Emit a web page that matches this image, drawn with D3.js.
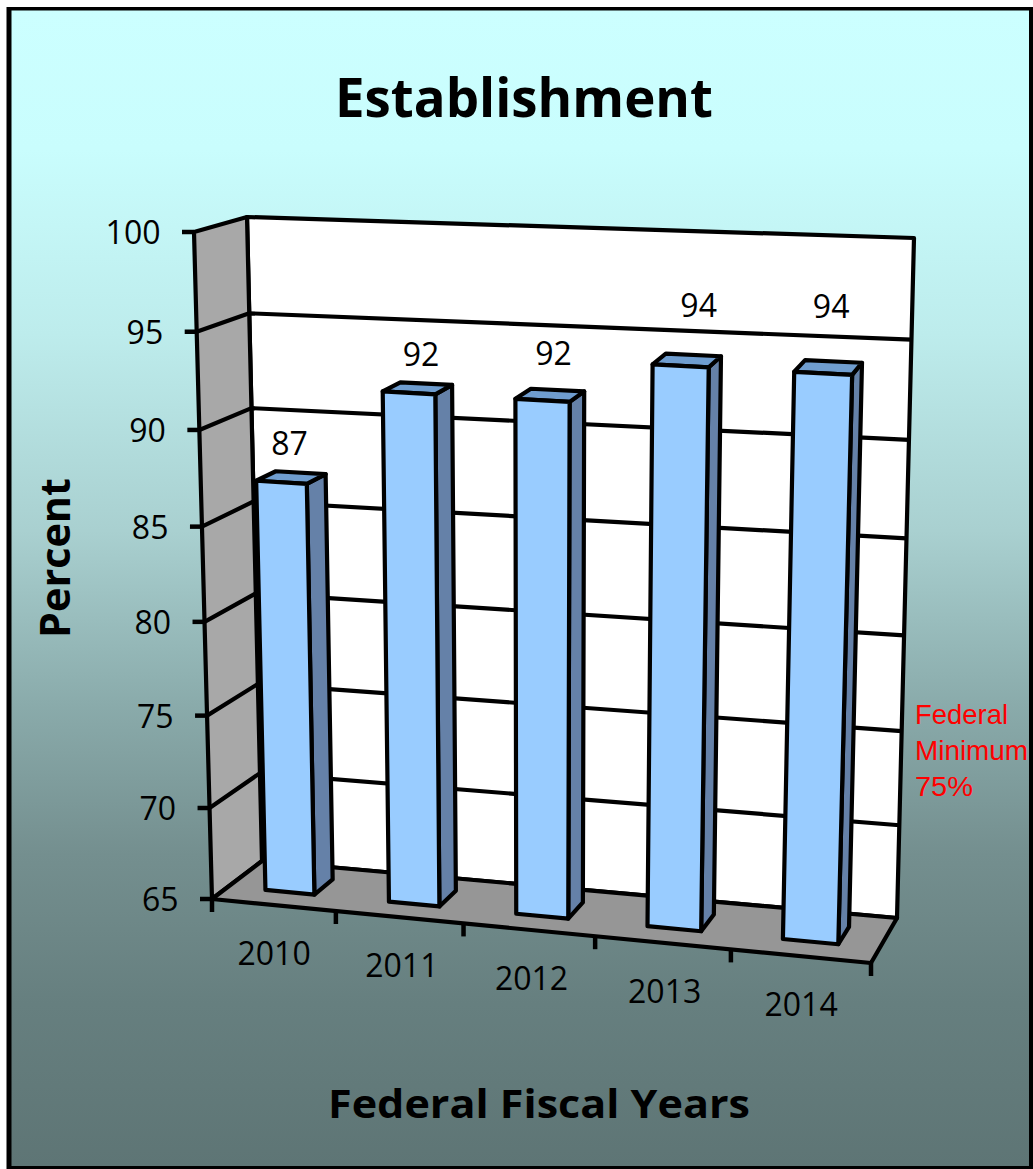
<!DOCTYPE html>
<html><head><meta charset="utf-8">
<script src="https://cdn.jsdelivr.net/npm/d3@7"></script>
<style>html,body{margin:0;padding:0;background:#fff}svg{display:block}</style>
</head><body><div id="chart"></div>
<script>
const years = ["2010","2011","2012","2013","2014"];
const values = [87.1,92.1,92.1,94.2,94.2];
const valueTicks = [65,70,75,80,85,90,95,100];
const minimumNote = ["Federal","Minimum","75%"];
const noteWidths = [93,113,58];

const W=1033,H=1169;
const FONT="'Open Sans','Noto Sans',sans-serif", BOLD="'Open Sans','Noto Sans',sans-serif", NOTE="'Liberation Sans',sans-serif";
const svg=d3.select("#chart").append("svg").attr("width",W).attr("height",H);
const defs=svg.append("defs");
const g=defs.append("linearGradient").attr("id","bg").attr("x1",0).attr("x2",0).attr("y1",0).attr("y2",1);
[[0,"#ccffff"],[.12,"#c9fdfd"],[.28,"#bdecec"],[.45,"#a9d0d0"],[.6,"#8aabab"],[.73,"#748f8f"],[.86,"#667f7f"],[1,"#5e7575"]]
  .forEach(s=>g.append("stop").attr("offset",s[0]).attr("stop-color",s[1]));
svg.append("rect").attr("x",6.5).attr("y",7).attr("width",W-6.5).attr("height",H-7).attr("fill","#000");
svg.append("rect").attr("x",11.5).attr("y",10.5).attr("width",1029-11.5).attr("height",1166-10.5).attr("fill","url(#bg)");

// perspective warp shared by the chart's axes
const warp=k=>t=>t/(t+k*(1-t));
const tOf=d3.scaleLinear().domain([65,100]).range([0,1]);
const vT=v=>warp(1.055)(tOf(v));
const band=d3.scaleBand().domain(years).range([0.001,1.001]).paddingInner(0.6).paddingOuter(0.3);
const uW=warp(1.08);

// box corners
const box={
 f:{l:{b:[212,899],t:[194,232]},r:{b:[871,963],t:[891,267]}},
 k:{l:{b:[262,861],t:[247,217]},r:{b:[897,918],t:[914,238]}}
};
const mix=d3.interpolateNumber;
function P(u,d,t){
  const q=(a,b)=>[mix(a[0],b[0])(t),mix(a[1],b[1])(t)];
  const fl=q(box.f.l.b,box.f.l.t),fr=q(box.f.r.b,box.f.r.t),kl=q(box.k.l.b,box.k.l.t),kr=q(box.k.r.b,box.k.r.t);
  const e=(a,b,s)=>[mix(a[0],b[0])(s),mix(a[1],b[1])(s)];
  return e(e(fl,fr,u),e(kl,kr,u),d);
}
const poly=pts=>pts.map(p=>p.join(",")).join(" ");
const SW=4.2;
const plot=svg.append("g").attr("stroke-linejoin","round");

plot.append("polygon").attr("points",poly([P(0,1,0),P(1,1,0),P(1,1,1),P(0,1,1)])).attr("fill","#fff").attr("stroke","#000").attr("stroke-width",SW);
plot.append("polygon").attr("points",poly([P(0,0,0),P(0,1,0),P(0,1,1),P(0,0,1)])).attr("fill","#a8a8a8").attr("stroke","#000").attr("stroke-width",SW);
plot.append("polygon").attr("points",poly([P(0,0,0),P(1,0,0),P(1,1,0),P(0,1,0)])).attr("fill","#969696").attr("stroke","#000").attr("stroke-width",SW);

plot.selectAll(".grid").data(valueTicks.slice(1,-1)).join("polyline").attr("class","grid")
  .attr("points",v=>poly([P(0,0,vT(v)),P(0,1,vT(v)),P(1,1,vT(v))]))
  .attr("fill","none").attr("stroke","#000").attr("stroke-width",SW);

const yTicks=plot.selectAll(".yt").data(valueTicks).join("g").attr("class","yt");
yTicks.append("line").attr("x1",v=>P(0,0,vT(v))[0]-12).attr("x2",v=>P(0,0,vT(v))[0])
  .attr("y1",v=>P(0,0,vT(v))[1]).attr("y2",v=>P(0,0,vT(v))[1]).attr("stroke","#000").attr("stroke-width",4.5);
yTicks.append("text").attr("x",v=>P(0,0,vT(v))[0]-33.5).attr("y",v=>P(0,0,vT(v))[1]+12).attr("text-anchor","end")
  .attr("font-family",FONT).attr("font-size",32).attr("fill","#000").text(v=>v);

const xTickVals=d3.range(0,years.length+1).map(i=>i/years.length);
plot.selectAll(".xt").data(xTickVals).join("line").attr("class","xt")
  .attr("x1",u=>P(uW(u),0,0)[0]).attr("x2",u=>P(uW(u),0,0)[0])
  .attr("y1",u=>P(uW(u),0,0)[1]).attr("y2",u=>P(uW(u),0,0)[1]+13)
  .attr("stroke","#000").attr("stroke-width",4.5);

const xLabelOffset=[0,2,2,1.5,0];
svg.selectAll(".xl").data(years).join("text").attr("class","xl")
  .attr("x",(d,i)=>P(uW(band(d)+band.bandwidth()/2),0,0)[0]+xLabelOffset[i])
  .attr("y",(d,i)=>P(uW(band(d)+band.bandwidth()/2),0,0)[1]+60)
  .attr("text-anchor","middle").attr("font-family",FONT).attr("font-size",32).attr("fill","#000").text(d=>d);

const d0=0.33,d1=0.72;
const labelShift=[[8,-39],[12,-39],[11,-47],[18,-61],[8,-67]];
const rows=years.map((y,i)=>({y,v:values[i],i}));
const bars=plot.selectAll(".bar").data(rows).join("g").attr("class","bar");
const u0=d=>uW(band(d.y)),u1=d=>uW(band(d.y)+band.bandwidth());
bars.append("polygon").attr("points",d=>poly([P(u1(d),d0,0),P(u1(d),d1,0),P(u1(d),d1,vT(d.v)),P(u1(d),d0,vT(d.v))]))
  .attr("fill","#6581a8").attr("stroke","#000").attr("stroke-width",SW);
bars.append("polygon").attr("points",d=>poly([P(u0(d),d0,vT(d.v)),P(u1(d),d0,vT(d.v)),P(u1(d),d1,vT(d.v)),P(u0(d),d1,vT(d.v))]))
  .attr("fill","#6f9dcf").attr("stroke","#000").attr("stroke-width",SW);
bars.append("polygon").attr("points",d=>poly([P(u0(d),d0,0),P(u1(d),d0,0),P(u1(d),d0,vT(d.v)),P(u0(d),d0,vT(d.v))]))
  .attr("fill","#99ccff").attr("stroke","#000").attr("stroke-width",SW);
const fmt=d3.format(".0f");
svg.selectAll(".vl").data(rows).join("text").attr("class","vl")
  .attr("x",d=>P((u0(d)+u1(d))/2,d0,vT(d.v))[0]+labelShift[d.i][0])
  .attr("y",d=>P((u0(d)+u1(d))/2,d0,vT(d.v))[1]+labelShift[d.i][1]+12)
  .attr("text-anchor","middle").attr("font-family",FONT).attr("font-size",32).attr("fill","#000").text(d=>fmt(d.v));

const bold=(sel,size,len)=>sel.attr("text-anchor","middle").attr("font-family",BOLD).attr("font-weight",700)
  .attr("font-size",size).attr("fill","#000").attr("textLength",len).attr("lengthAdjust","spacingAndGlyphs");
bold(svg.append("text").attr("x",524).attr("y",117),53,378).text("Establishment");
bold(svg.append("text").attr("x",539).attr("y",1118),40,422).text("Federal Fiscal Years");
bold(svg.append("text").attr("transform","translate(70,558) rotate(-90)"),42,160).text("Percent");

svg.selectAll(".note").data(minimumNote).join("text").attr("class","note")
  .attr("x",915).attr("y",(d,i)=>724+i*36).attr("font-family",NOTE).attr("font-size",28).attr("fill","#ff0000")
  .attr("textLength",(d,i)=>noteWidths[i]).attr("lengthAdjust","spacingAndGlyphs").text(d=>d);
</script></body></html>
